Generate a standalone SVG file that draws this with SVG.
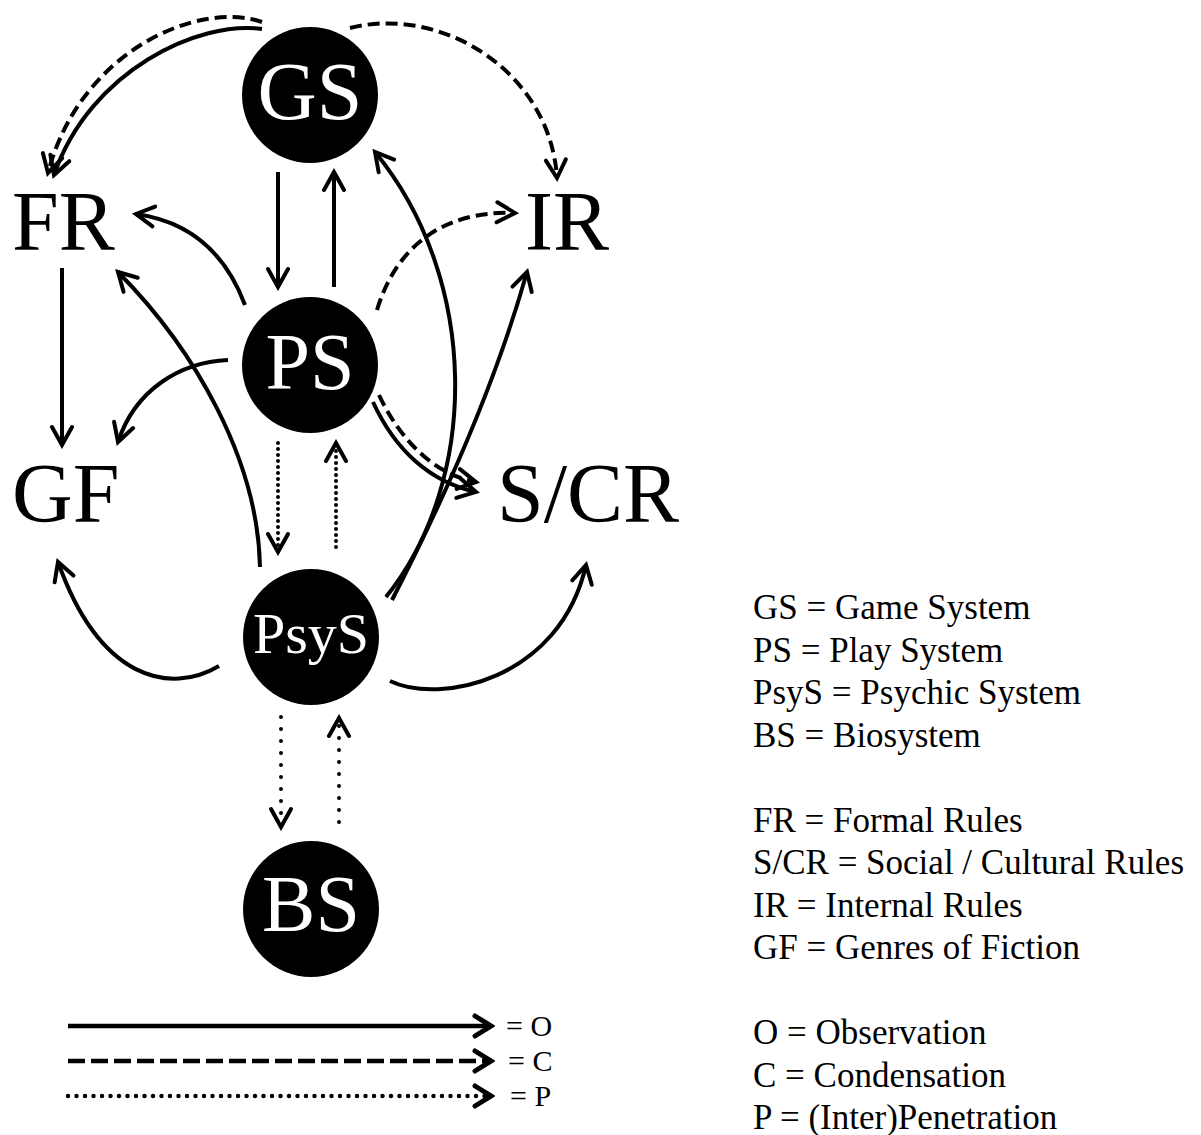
<svg xmlns="http://www.w3.org/2000/svg" width="1201" height="1135" viewBox="0 0 1201 1135">
<style>
.node{fill:#000}
.nl{font-family:"Liberation Serif","Times New Roman",serif;fill:#fff;text-anchor:middle}
.lbl{font-family:"Liberation Serif","Times New Roman",serif;fill:#000;font-size:84px}
.key{font-family:"Liberation Serif","Times New Roman",serif;fill:#000;font-size:35px}
.lg{font-family:"Liberation Serif","Times New Roman",serif;fill:#000;font-size:30px}
.o{fill:none;stroke:#000;stroke-width:4;marker-end:url(#ah)}
.c{fill:none;stroke:#000;stroke-width:4;stroke-dasharray:12 6;marker-end:url(#ah)}
.p{fill:none;stroke:#000;stroke-width:4;stroke-linecap:round;stroke-dasharray:0 6;marker-end:url(#ah)}
.p2{fill:none;stroke:#000;stroke-width:4;stroke-linecap:round;stroke-dasharray:0 12;marker-end:url(#ah)}
</style>
<defs>
<marker id="ah" viewBox="-22 -13 26 26" markerWidth="26" markerHeight="26" refX="0" refY="0" orient="auto" markerUnits="userSpaceOnUse">
<path d="M -18 -10 L 0 0 L -18 10" fill="none" stroke="#000" stroke-width="4" stroke-dasharray="none" stroke-linecap="round" stroke-linejoin="miter"/>
</marker>
<marker id="ahb" viewBox="-22 -13 26 26" markerWidth="26" markerHeight="26" refX="0" refY="0" orient="auto" markerUnits="userSpaceOnUse">
<path d="M -16 -10 L 0 0 L -16 10" fill="none" stroke="#000" stroke-width="5" stroke-dasharray="none" stroke-linecap="round" stroke-linejoin="miter"/>
</marker>
</defs>
<rect width="1201" height="1135" fill="#fff"/>
<g id="connectors">
<path class="c" d="M 262 22 C 200 0, 80 50, 48 173"/>
<path class="o" d="M 262 29 C 200 20, 90 70, 54 175"/>
<path class="c" d="M 350 28 C 440 5, 550 70, 557 178"/>
<path class="o" d="M 278 172 L 278 287"/>
<path class="o" d="M 334 287 L 334 172"/>
<path class="o" d="M 386 597 C 480 480, 480 280, 375 152"/>
<path class="o" d="M 392 600 Q 485 420 527 272"/>
<path class="o" d="M 245 305 Q 215 225 136 214"/>
<path class="o" d="M 260 567 C 258 460, 195 350, 118 272"/>
<path class="o" d="M 228 360 C 180 362, 135 390, 118 442"/>
<path class="o" d="M 62 268 L 62 445"/>
<path class="c" d="M 377 310 C 395 250, 440 210, 515 213"/>
<path class="o" d="M 373 402 C 395 450, 430 482, 476 492"/>
<path class="c" d="M 379 395 C 400 440, 435 475, 476 482"/>
<path class="p" d="M 278 443 L 278 552"/>
<path class="p" d="M 336 547 L 336 443"/>
<path class="o" d="M 219 666 C 170 695, 100 680, 58 562"/>
<path class="o" d="M 390 681 C 440 705, 560 680, 586 565"/>
<path class="p2" d="M 281 717 L 281 827"/>
<path class="p2" d="M 339 822 L 339 718"/>
</g>
<g id="legend-lines">
<path class="o" style="stroke-width:4.5;marker-end:url(#ahb)" d="M 68 1026 L 491 1026"/>
<path class="c" style="stroke-width:4.5;stroke-dasharray:17 6;marker-end:url(#ahb)" d="M 68 1061 L 491 1061"/>
<path class="p" style="stroke-width:4.5;stroke-dasharray:0 8.5;marker-end:url(#ahb)" d="M 68 1096 L 491 1096"/>
<text class="lg" x="506" y="1036">= O</text>
<text class="lg" x="508" y="1071">= C</text>
<text class="lg" x="510" y="1106">= P</text>
</g>
<g id="GS"><circle class="node" cx="310" cy="95" r="68"/><text class="nl" x="310" y="119" font-size="82">GS</text></g>
<g id="PS"><circle class="node" cx="310" cy="365" r="68"/><text class="nl" x="310" y="389" font-size="80">PS</text></g>
<g id="PsyS"><circle class="node" cx="311" cy="637" r="68"/><text class="nl" x="311" y="653" font-size="58">PsyS</text></g>
<g id="BS"><circle class="node" cx="311" cy="909" r="68"/><text class="nl" x="311" y="931" font-size="80">BS</text></g>
<g id="FR"><text class="lbl" x="12" y="250">FR</text></g>
<g id="IR"><text class="lbl" x="525" y="250">IR</text></g>
<g id="GF"><text class="lbl" x="12" y="522">GF</text></g>
<g id="SCR"><text class="lbl" x="497" y="522">S/CR</text></g>
<g id="key">
<text class="key" x="753" y="619">GS = Game System</text>
<text class="key" x="753" y="661.5">PS = Play System</text>
<text class="key" x="753" y="704">PsyS = Psychic System</text>
<text class="key" x="753" y="746.5">BS = Biosystem</text>
<text class="key" x="753" y="831.5">FR = Formal Rules</text>
<text class="key" x="753" y="874">S/CR = Social / Cultural Rules</text>
<text class="key" x="753" y="916.5">IR = Internal Rules</text>
<text class="key" x="753" y="959">GF = Genres of Fiction</text>
<text class="key" x="753" y="1044">O = Observation</text>
<text class="key" x="753" y="1086.5">C = Condensation</text>
<text class="key" x="753" y="1129">P = (Inter)Penetration</text>
</g>
</svg>
